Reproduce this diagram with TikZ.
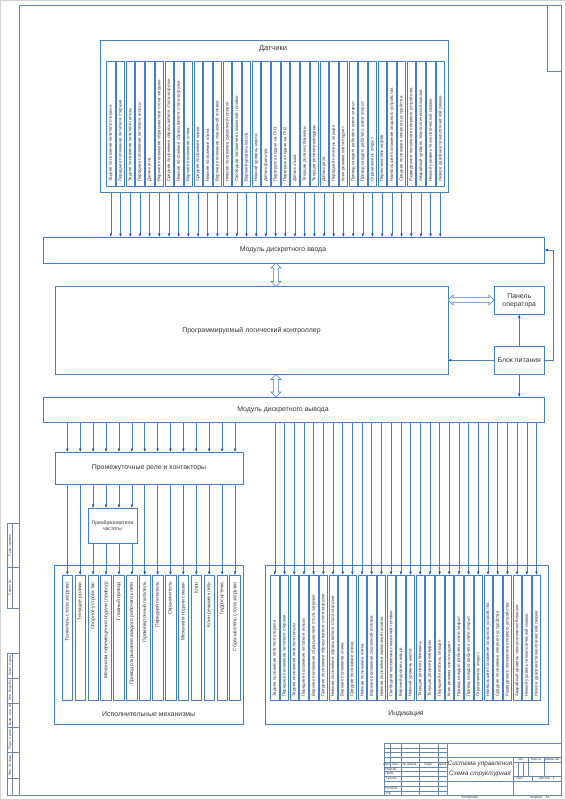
\documentclass[tikz,border=0pt]{standalone}
\usepackage{fontspec}
\setmainfont{Liberation Sans}
\usetikzlibrary{arrows.meta,calc}
\definecolor{ln}{RGB}{66,128,204}
\definecolor{tipc}{RGB}{30,70,170}
\definecolor{frm}{RGB}{105,135,172}
\definecolor{txt}{RGB}{55,55,60}
\tikzset{
  box/.style={draw=ln, line width=0.45pt, inner sep=0pt, outer sep=0pt, text=txt, align=center, font=\fontsize{5.2}{6.2}\selectfont},
  subbox/.style={draw=ln, line width=0.4pt, inner sep=0pt, outer sep=0pt},
  vlab/.style={rotate=90, inner sep=0pt, text=txt, font=\fontsize{3.3}{4}\selectfont},
  mlab/.style={rotate=90, inner sep=0pt, text=txt, font=\fontsize{3.75}{4.5}\selectfont},
  lab/.style={inner sep=0pt, text=txt, align=center, font=\fontsize{5.2}{6.2}\selectfont},
  conn/.style={draw=ln, line width=0.4pt, -{Latex[length=2.6pt,width=2pt,color=tipc]}},
  plainln/.style={draw=ln, line width=0.4pt},
  hollow/.style={draw=ln, line width=0.45pt, fill=white},
  frame/.style={draw=frm, line width=0.6pt},
  tb/.style={draw=frm, line width=0.3pt},
  tiny/.style={inner sep=0pt, text=txt, font=\fontsize{2.5}{3}\selectfont},
}
\newcommand\mkbox[6]{\node[box, minimum width={(#4-#2)*0.75pt}, minimum height={(#5-#3)*0.75pt}] (#1) at ({(#2+#4)/2},{(#3+#5)/2}) {#6};}
\newcommand\dblV[3]{\draw[hollow] let \p1=(#2), \p2=(#3), \p3=(#1,0) in (\x3,\y1) -- ++(3.75pt,-3.75pt) -- ++(-2pt,0) -- (\x3+1.75pt,\y2+3.75pt) -- ++(2pt,0) -- (\x3,\y2) -- ++(-3.75pt,3.75pt) -- ++(2pt,0) -- (\x3-1.75pt,\y1-3.75pt) -- ++(-2pt,0) -- cycle;}
\newcommand\dblH[3]{\draw[hollow] let \p1=(#2), \p2=(#3), \p3=(0,#1) in (\x1,\y3) -- ++(3.75pt,3.75pt) -- ++(0,-2pt) -- (\x2-3.75pt,\y3+1.75pt) -- ++(0,2pt) -- (\x2,\y3) -- ++(-3.75pt,-3.75pt) -- ++(0,2pt) -- (\x1+3.75pt,\y3-1.75pt) -- ++(0,-2pt) -- cycle;}
\begin{document}
\begin{tikzpicture}[x=0.75pt,y=-0.75pt]
\useasboundingbox (0,0) rectangle (566,800);
\fill[white] (0,0) rectangle (566,800);
\draw[gray!35, line width=0.8pt] (0.5,0.5) rectangle (565.5,799.5);
% drawing frame
\draw[frame] (19,5) rectangle (561,795);
\draw[frame] (547.7,5) rectangle (561,71.7);
% left strip
\draw[frame] (7.6,523) rectangle (19,608);
\draw[tb] (7.6,567) -- (19,567);
\draw[tb] (12.4,523) -- (12.4,608);
\node[tiny, rotate=90] at (10,545) {Перв. примен.};
\node[tiny, rotate=90] at (10,587.5) {Справ. №};
\draw[frame] (7.6,653) rectangle (19,795);
\foreach \yy in {678,703,727,752,778} \draw[tb] (7.6,\yy) -- (19,\yy);
\draw[tb] (12.4,653) -- (12.4,795);
\node[tiny, rotate=90] at (10,665.5) {Подп. и дата};
\node[tiny, rotate=90] at (10,690.5) {Инв. № дубл.};
\node[tiny, rotate=90] at (10,715) {Взам. инв. №};
\node[tiny, rotate=90] at (10,739.5) {Подп. и дата};
\node[tiny, rotate=90] at (10,765) {Инв. № подл.};
% title block
\draw[frame] (384,743) rectangle (561,795);
\foreach \k in {1,...,10} \draw[tb] (384,{743+4.77*\k}) -- (447,{743+4.77*\k});
\foreach \xx in {401,419,438} \draw[tb] (\xx,743) -- (\xx,795);
\draw[tb] (390,743) -- (390,766.9);
\draw[frame] (447,743) -- (447,795);
\draw[frame] (447,757.3) -- (561,757.3);
\draw[frame] (513.5,757.3) -- (513.5,795);
\draw[frame] (447,781.1) -- (561,781.1);
\draw[tb] (513.5,762.1) -- (561,762.1);
\draw[tb] (513.5,776.4) -- (561,776.4);
\draw[tb] (528,757.3) -- (528,776.4);
\draw[tb] (544,757.3) -- (544,776.4);
\draw[tb] (518.3,762.1) -- (518.3,776.4);
\draw[tb] (523.1,762.1) -- (523.1,776.4);
\draw[tb] (532.5,776.4) -- (532.5,781.1);
\node[tiny] at (387,764.5) {Изм.};
\node[tiny] at (395.5,764.5) {Лист};
\node[tiny] at (410,764.5) {№ докум.};
\node[tiny] at (428.5,764.5) {Подп.};
\node[tiny] at (442.5,764.5) {Дата};
\foreach \t [count=\j from 0] in {Разраб.,Пров.,Т.контр.,{},Н.контр.,Утв.}
  \node[tiny, anchor=west] at (385,{769.3+4.77*\j}) {\t};
\node[tiny] at (520.7,759.7) {Лит.};
\node[tiny] at (536,759.7) {Масса};
\node[tiny] at (552.5,759.7) {Масштаб};
\node[tiny] at (520,778.8) {Лист};
\node[tiny] at (546.7,778.8) {Листов\quad 1};
\node[inner sep=0pt, text=txt, align=center, font=\fontsize{4.8}{7.6}\itshape\selectfont] (ttl) at (480,769) {Система управления\\Схема структурная};
\node[tiny] at (470,798) {Копировал};
\node[tiny] at (540,798) {Формат\quad А1};

% main blocks
\mkbox{sens}{100}{40}{448}{192}{}
\node[lab, font=\fontsize{5.6}{6.5}\selectfont] (senst) at (273,49) {Датчики};
\mkbox{in}{43}{237}{544.5}{263}{}
\node[lab] (intxt) at (283,250) {Модуль дискретного ввода};
\mkbox{plc}{55}{286.5}{448}{374.5}{Программируемый логический контроллер}
\mkbox{pnl}{494}{286.5}{544.5}{314.5}{Панель\\оператора}
\mkbox{bp}{494}{346}{544.5}{374.5}{Блок питания}
\mkbox{out}{43}{397}{544.5}{422.5}{}
\node[lab] (outtxt) at (283,410) {Модуль дискретного вывода};
\mkbox{rel}{55}{452}{243}{484}{Промежуточные реле и контакторы}
\node[box, font=\fontsize{3.8}{5}\selectfont, minimum width={49*0.75pt}, minimum height={35*0.75pt}] (fc) at (112.5,525.5) {Преобразователи\\частоты};
\mkbox{mech}{54.5}{565}{243}{724}{}
\node[lab] (mecht) at (148.7,714) {Исполнительные механизмы};
\mkbox{ind}{265}{565}{548}{724}{}
\node[lab] (indt) at (406,714) {Индикация};

% sensors
\foreach \t [count=\i from 0] in {
Заднее положение питателя стержня,
Переднее положение питателя стержня,
Заднее положение питателя гильзы,
Переднее положение питателя гильзы,
Датчик угла,
Верхнее положение сбрасывателя стола загрузки,
Среднее положение сбрасывателя стола загрузки,
Нижнее положение сбрасывателя стола загрузки,
Верхнее положение клина,
Среднее положение клина,
Нижнее положение клина,
Верхнее положение смазочной головки,
Нижнее положение смазочной головки,
Свободное положение смазочной головки,
Верхний уровень масла,
Нижний уровень масла,
Датчик фильтра,
Перегрузка подачи на ПЧ1,
Перегрузка подачи на ПЧ2,
Датчик стыка,
Тянущие ролики сближены,
Тянущие ролики разведены,
Датчик реза,
Передний питатель опущен,
Клин режима клети поднят,
Привод каждого рабочего клети закрыт,
Привод каждого рабочего клети открыт,
Ограничитель открыт,
Переключатель нагрев,
Наибольшее положение опорного устройства,
Среднее положение опорного устройства,
Разведенное положение опорного устройства,
Аварийный уровень технологической смазки,
Низкий уровень технологической смазки,
Низкое давление технологической смазки}{
  \node[subbox, minimum width=6.3pt, minimum height=93.75pt] (s\i) at ({110.85+9.69*\i},124.2) {};
  \node[vlab, anchor=west] (sl\i) at ({110.85+9.69*\i},182) {\t};
  \draw[conn] (s\i.south |- sens.south) -- (s\i.south |- in.north);
}

% indication
\foreach \t [count=\i from 0] in {
Заднее положение питателя стержня,
Переднее положение питателя стержня,
Заднее положение питателя гильзы,
Переднее положение питателя гильзы,
Верхнее положение сбрасывателя стола загрузки,
Среднее положение сбрасывателя стола загрузки,
Нижнее положение сбрасывателя стола загрузки,
Верхнее положение клина,
Среднее положение клина,
Нижнее положение клина,
Верхнее положение смазочной головки,
Нижнее положение смазочной головки,
Свободное положение смазочной головки,
Верхний уровень масла,
Нижний уровень масла,
Тянущие ролики сближены,
Тянущие ролики разведены,
Передний питатель опущен,
Клин режима клети поднят,
Привод каждого рабочего клети закрыт,
Привод каждого рабочего клети открыт,
Ограничитель открыт,
Наибольшее положение опорного устройства,
Среднее положение опорного устройства,
Разведенное положение опорного устройства,
Аварийный уровень технологической смазки,
Низкий уровень технологической смазки,
Низкое давление технологической смазки}{
  \node[subbox, minimum width=6.3pt, minimum height=93.75pt] (d\i) at ({274.85+9.69*\i},637.5) {};
  \node[vlab, anchor=west] (dl\i) at ({274.85+9.69*\i},697) {\t};
  \draw[conn] (d\i.north |- out.south) -- (d\i.north);
}

% mechanisms
\foreach \t [count=\i from 0] in {
Толкатель стола загрузки,
Тянущие ролики,
Опорное устройство,
Механизм перемещения подачи (привод),
Главный привод,
Привод открывания каждого рабочего клети,
Промежуточный питатель,
Передний питатель,
Ограничитель,
Механизм подачи смазки,
Клин,
Клин режима клети,
Гидросистема,
Сбрасыватель стола загрузки}{
  \node[subbox, minimum width=7.9pt, minimum height=93.75pt] (m\i) at ({67.3+12.9*\i},637.5) {};
  \node[mlab, anchor=east] (ml\i) at ({67.3+12.9*\i},582) {\t};
  \draw[conn] (m\i.north |- out.south) -- (m\i.north |- rel.north);
}
\foreach \i in {0,1,6,7,8,9,10,11,12,13}
  \draw[conn] (m\i.north |- rel.south) -- (m\i.north);
\foreach \i in {2,3,4,5}{
  \draw[conn] (m\i.north |- rel.south) -- (m\i.north |- fc.north);
  \draw[conn] (m\i.north |- fc.south) -- (m\i.north);
}

% double arrows
\dblV{276}{in.south}{plc.north}
\dblV{276}{plc.south}{out.north}
\dblH{300}{plc.east}{pnl.west}

% power supply
\draw[conn] (bp.north) -- (pnl.south);
\draw[conn] (bp.west) -- (bp.west -| plc.east);
\draw[conn] (bp.east) -- ++(9,0) |- (in.east);
\draw[conn] (bp.south) -- (bp.south |- out.north);
\end{tikzpicture}
\end{document}
